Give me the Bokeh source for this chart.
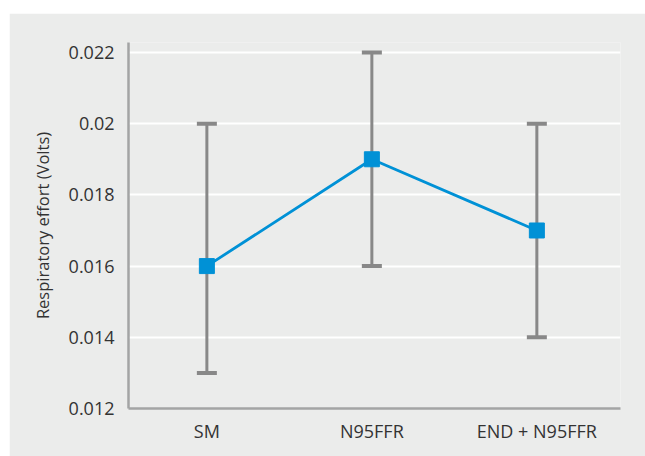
from bokeh.plotting import figure
from bokeh.models import ColumnDataSource, Whisker, FixedTicker, Range1d, TeeHead
from bokeh.embed import file_html
from bokeh.resources import INLINE

categories = ["SM", "N95FFR", "END + N95FFR"]
means = [0.016, 0.019, 0.017]
lower = [0.013, 0.016, 0.014]
upper = [0.020, 0.022, 0.020]
y_ticks = [0.012, 0.014, 0.016, 0.018, 0.02, 0.022]
y_tick_labels = ["0.012", "0.014", "0.016", "0.018", "0.02", "0.022"]

xs = list(range(len(categories)))
src = ColumnDataSource(dict(x=xs, y=means, lower=lower, upper=upper))

BG = "#ebeceb"
FONT = "Open Sans"

p = figure(width=636, height=443, output_backend="svg", toolbar_location=None,
           x_range=Range1d(-0.475, 2.507), y_range=Range1d(0.012, 0.02228),
           background_fill_color=BG, border_fill_color=BG, outline_line_color=None,
           min_border_left=119, min_border_right=25, min_border_top=29, min_border_bottom=48)
p.margin = (13, 0, 0, 9)

p.xgrid.grid_line_color = None
p.ygrid.grid_line_color = "white"
p.ygrid.grid_line_width = 2
p.ygrid.ticker = FixedTicker(ticks=y_ticks)

p.xaxis.ticker = FixedTicker(ticks=xs)
p.xaxis.major_label_overrides = {i: c for i, c in enumerate(categories)}
p.yaxis.ticker = FixedTicker(ticks=y_ticks)
p.yaxis.major_label_overrides = {t: l for t, l in zip(y_ticks, y_tick_labels)}

for ax in (p.xaxis[0], p.yaxis[0]):
    ax.axis_line_color = "#a3a4a4"
    ax.axis_line_width = 2.5
    ax.major_tick_line_color = None
    ax.minor_tick_line_color = None
    ax.major_label_text_font = FONT
    ax.major_label_text_font_size = "18px"
    ax.major_label_text_color = "#333333"

p.xaxis.major_label_standoff = 4
p.yaxis.major_label_standoff = 8
p.yaxis.axis_label = "Respiratory effort (Volts)"
p.yaxis.axis_label_text_font = FONT
p.yaxis.axis_label_text_font_size = "16.5px"
p.yaxis.axis_label_text_font_style = "normal"
p.yaxis.axis_label_text_color = "#333333"
p.yaxis.axis_label_standoff = 12

w = Whisker(source=src, base="x", lower="lower", upper="upper", dimension="height",
            line_color="#888888", line_width=3,
            upper_head=TeeHead(size=20, line_color="#888888", line_width=4),
            lower_head=TeeHead(size=20, line_color="#888888", line_width=4))
p.add_layout(w)

p.line("x", "y", source=src, line_color="#0091d6", line_width=2.8)
p.scatter("x", "y", source=src, marker="square", size=15, fill_color="#0091d6", line_color="#0091d6")

open("out.html", "w").write(file_html(p, INLINE))
